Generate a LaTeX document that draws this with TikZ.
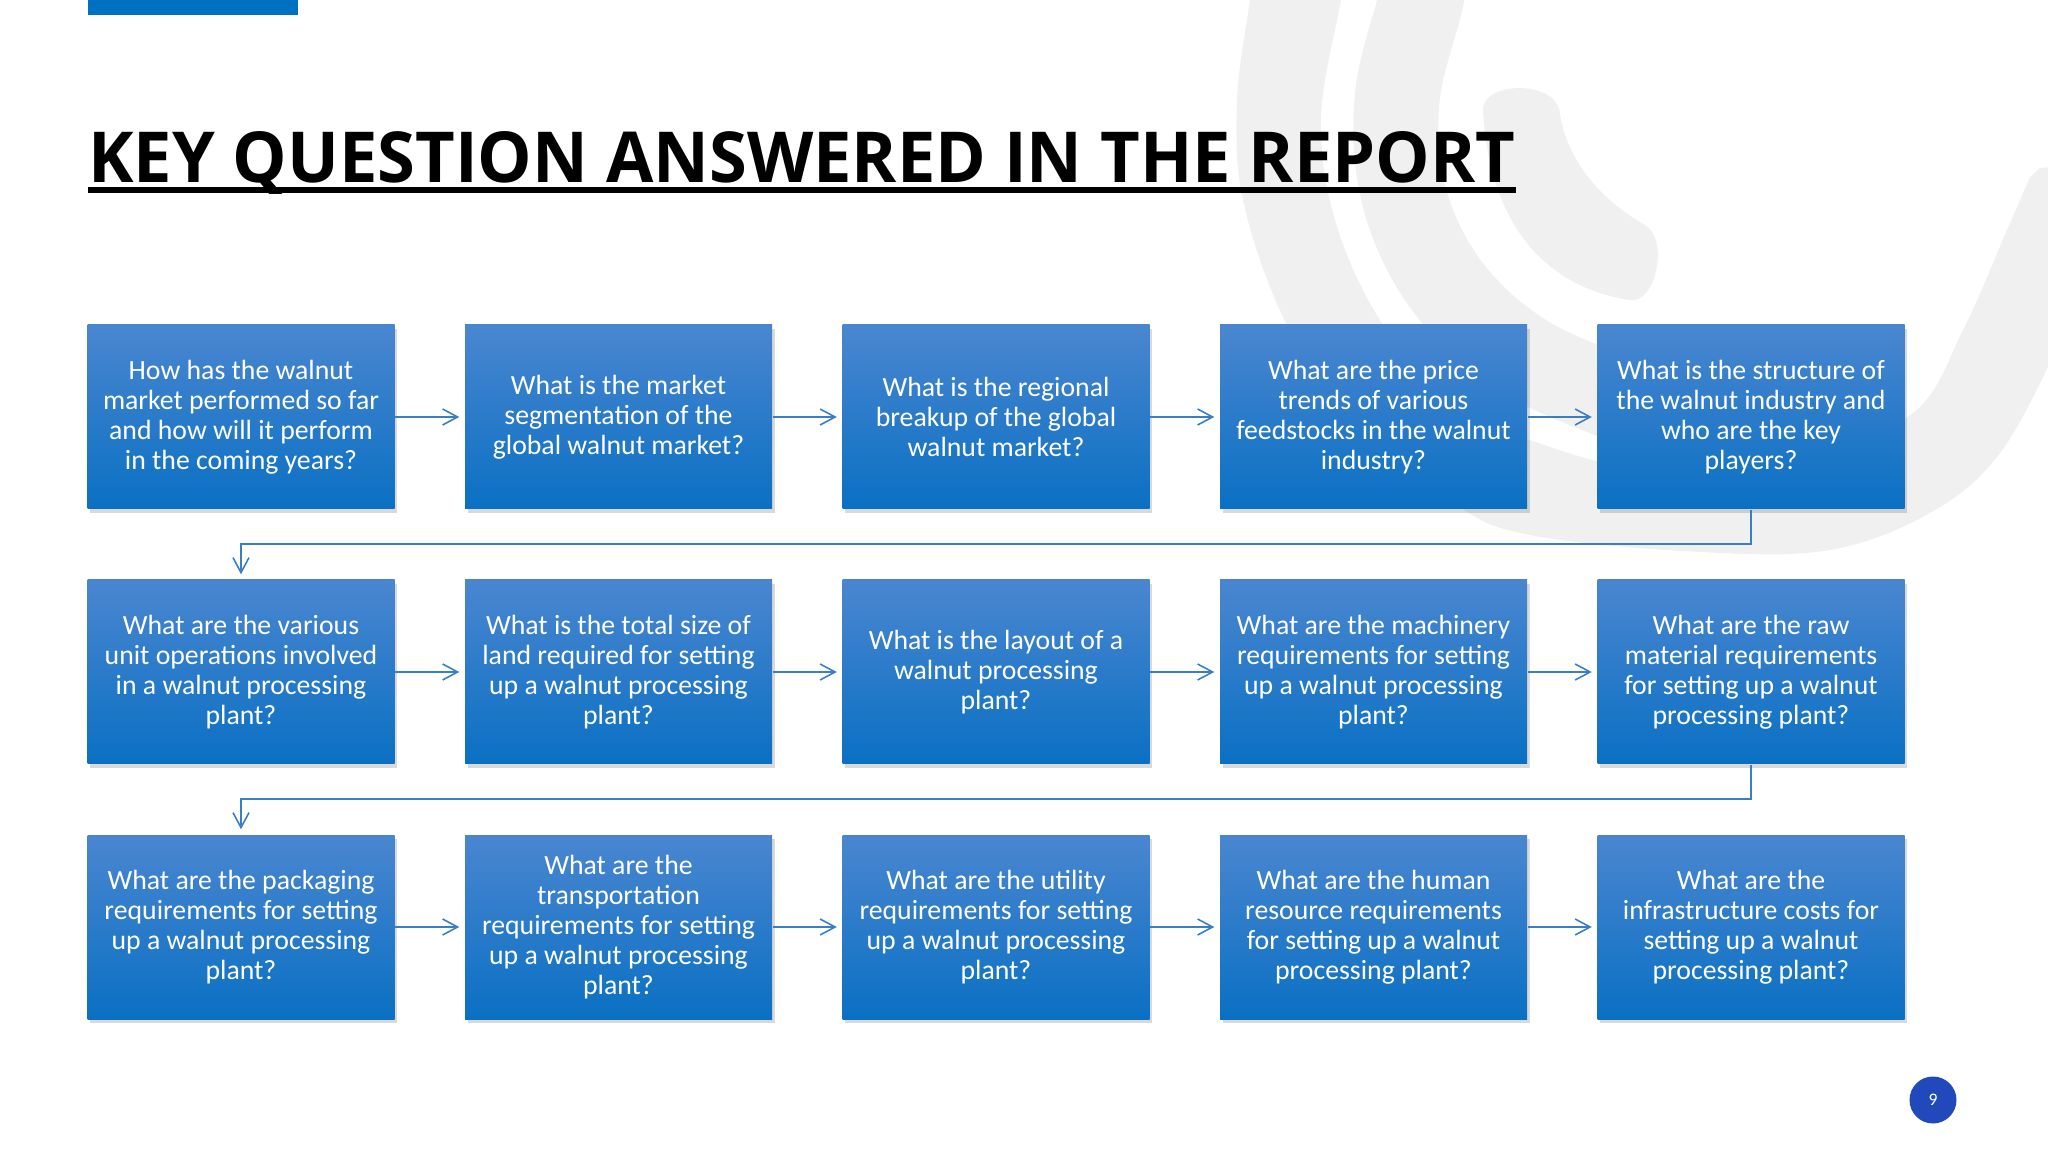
\documentclass[tikz,border=0pt]{standalone}
\usepackage{fontspec}
\setmainfont{Carlito}
\newfontfamily\titlefont{Open Sans}
\usetikzlibrary{arrows.meta,shadows}

\definecolor{brandblue}{HTML}{0070C0}
\definecolor{boxtop}{HTML}{4A86D0}
\definecolor{boxbot}{HTML}{0A70C3}
\definecolor{flowblue}{HTML}{3A7EC6}
\definecolor{logogray}{HTML}{F0F0F0}
\definecolor{pageblue}{HTML}{2149BC}

\tikzset{
  qbox/.style={rectangle, minimum width=3.07cm, minimum height=1.84cm, inner sep=0pt,
    top color=boxtop, bottom color=boxbot,
    drop shadow={shadow xshift=0.025cm, shadow yshift=-0.04cm, opacity=0.25, fill=black!60},
    text=white, align=center, font=\fontsize{7.9}{8.55}\selectfont},
  flow/.style={draw=flowblue, line width=0.45pt, ->, shorten >=0.05cm},
  logo/.style={fill=logogray},
}

\begin{document}
\begin{tikzpicture}[>={Straight Barb[length=1.5mm,width=1.6mm]}]
  \def\colgap{3.775}  % box pitch, horizontal
  \def\rowgap{2.55}   % box pitch, vertical
  \useasboundingbox (0,0) rectangle (20.48,-11.52);

  % watermark logo, top right
  \begin{scope}
    \clip (0,0) rectangle (20.48,-11.52);
    % outer ring
    \fill[logo] plot[smooth, tension=0.6] coordinates {(12.54,0.3) (12.50,0) (12.37,-1.00) (12.43,-2.00)
        (12.83,-3.17) (13.40,-4.00) (14.50,-5.00) (15.30,-5.35) (17.00,-5.52) (18.30,-5.50)
        (19.30,-5.13) (19.97,-4.57) (20.50,-3.63) (20.75,-3.00)}
      -- (20.75,-1.65) -- (20.40,-1.68)
      -- plot[smooth, tension=0.6] coordinates {(20.30,-1.77) (20.07,-2.30) (19.63,-3.30) (19.13,-4.13)
        (18.00,-4.60) (16.50,-4.70) (15.30,-4.40) (14.50,-4.00) (13.80,-3.20) (13.35,-2.20)
        (13.21,-1.17) (13.41,0) (13.45,0.3)}
      -- cycle;
    % middle band
    \draw[logogray, line width=0.85cm] plot[smooth, tension=0.6] coordinates {(14.25,0.3) (14.21,0)
        (13.97,-1.00) (14.05,-2.00) (14.50,-2.90) (15.30,-3.60) (16.50,-4.10)};
    % inner hook
    \fill[logo] (14.83,-1.10) .. controls (14.83,-0.80) and (15.60,-0.80) .. (15.60,-1.15)
      .. controls (15.70,-1.70) and (16.10,-2.05) .. (16.45,-2.25)
      .. controls (16.70,-2.40) and (16.55,-3.05) .. (16.30,-3.00)
      .. controls (15.60,-2.90) and (14.90,-2.40) .. cycle;
  \end{scope}

  % header bar and title
  \fill[brandblue] (0.875,0) rectangle (2.98,-0.15);
  \node[anchor=base west, inner sep=0pt] (title) at (0.875,-1.83)
    {\resizebox{14.27cm}{0.51cm}{\titlefont\bfseries KEY QUESTION ANSWERED IN THE REPORT}};
  \draw[line width=0.055cm] ([yshift=-0.07cm]title.base west) -- ([yshift=-0.07cm]title.base east);

  % question boxes, five per row
  \foreach \txt [count=\n] in {%
      {How has the walnut\\market performed so far\\and how will it perform\\in the coming years?},
      {What is the market\\segmentation of the\\global walnut market?},
      {What is the regional\\breakup of the global\\walnut market?},
      {What are the price\\trends of various\\feedstocks in the walnut\\industry?},
      {What is the structure of\\the walnut industry and\\who are the key\\players?},
      {What are the various\\unit operations involved\\in a walnut processing\\plant?},
      {What is the total size of\\land required for setting\\up a walnut processing\\plant?},
      {What is the layout of a\\walnut processing\\plant?},
      {What are the machinery\\requirements for setting\\up a walnut processing\\plant?},
      {What are the raw\\material requirements\\for setting up a walnut\\processing plant?},
      {What are the packaging\\requirements for setting\\up a walnut processing\\plant?},
      {What are the\\transportation\\requirements for setting\\up a walnut processing\\plant?},
      {What are the utility\\requirements for setting\\up a walnut processing\\plant?},
      {What are the human\\resource requirements\\for setting up a walnut\\processing plant?},
      {What are the\\infrastructure costs for\\setting up a walnut\\processing plant?}}{
    \pgfmathtruncatemacro\row{(\n-1)/5}
    \pgfmathtruncatemacro\col{mod(\n-1,5)}
    \node[qbox] (q\n) at ({2.41+\col*\colgap},{-4.17-\row*\rowgap}) {\txt};
  }

  % connectors within rows
  \foreach \a/\b in {1/2,2/3,3/4,4/5,6/7,7/8,8/9,9/10,11/12,12/13,13/14,14/15}
    \draw[flow] (q\a.east) -- (q\b.west);
  % connectors between rows
  \draw[flow] (q5.south) -- ++(0,-0.345) -| (q6.north);
  \draw[flow] (q10.south) -- ++(0,-0.345) -| (q11.north);

  % page number
  \node[circle, fill=pageblue, minimum size=0.47cm, inner sep=0pt, text=white,
    font=\fontsize{5}{6}\selectfont] (page) at (19.33,-11.00) {9};
\end{tikzpicture}
\end{document}
